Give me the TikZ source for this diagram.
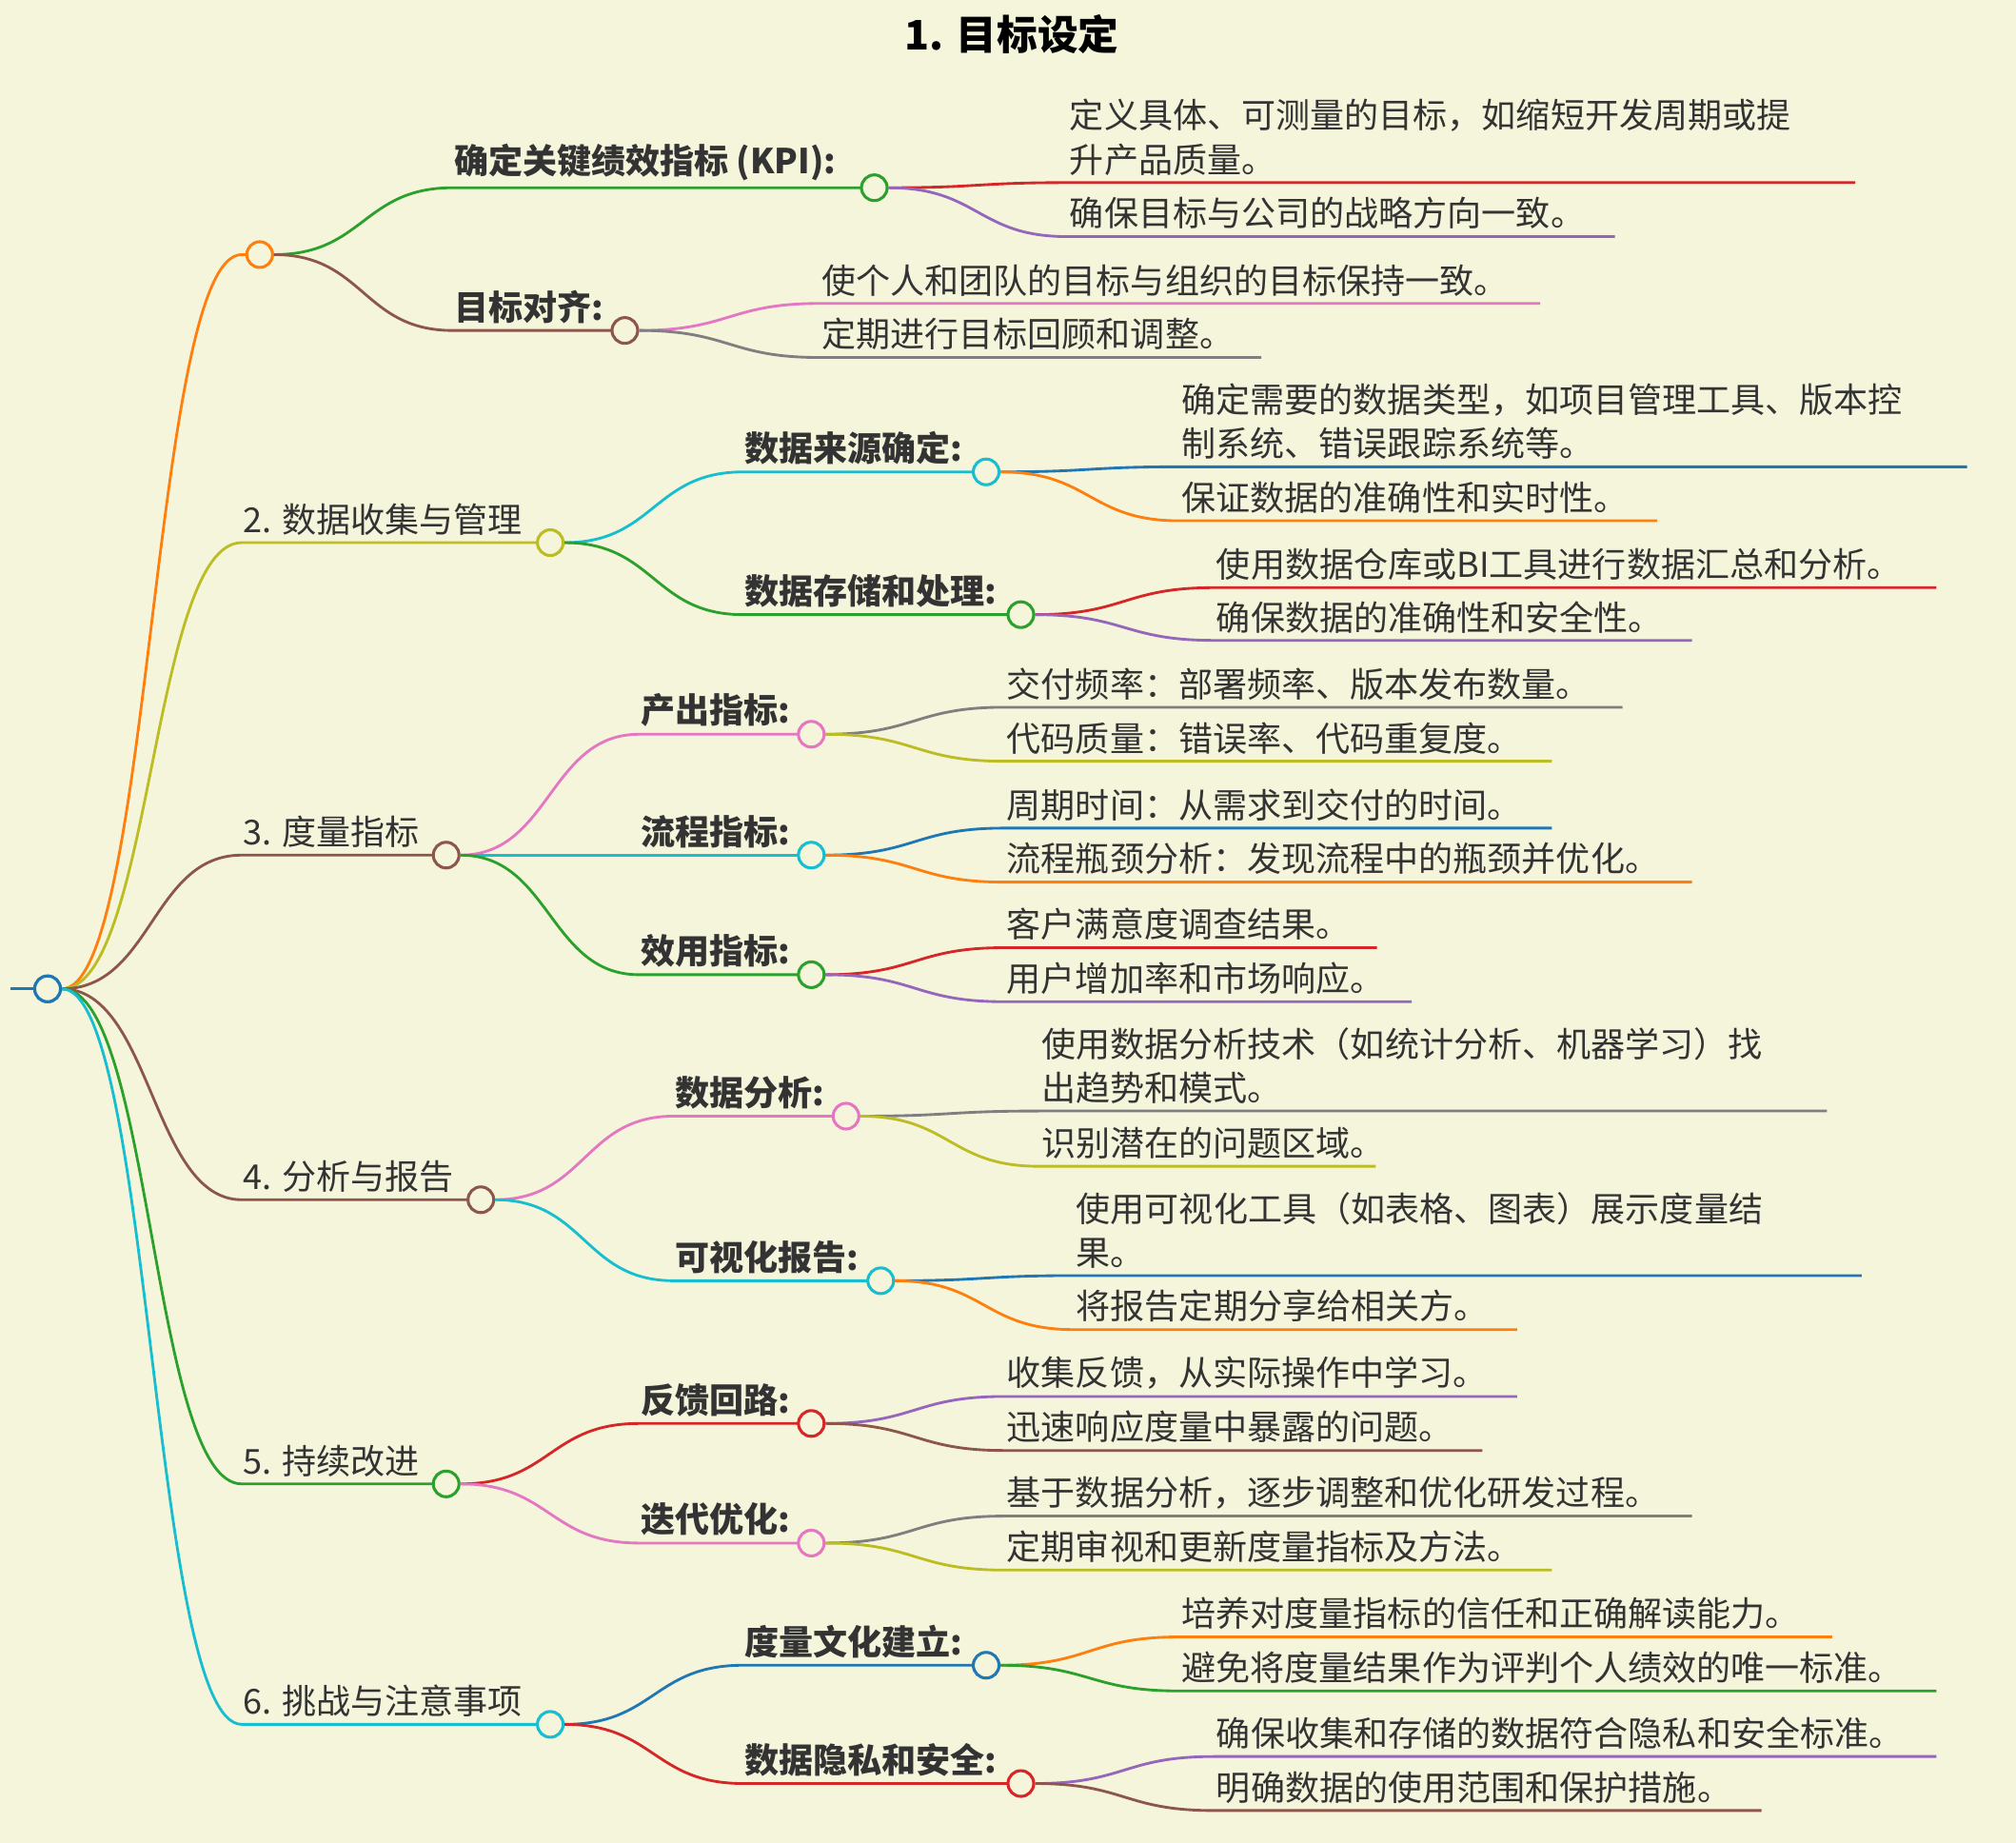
\documentclass[tikz,border=0pt]{standalone}
\usepackage{fontspec}
\setmainfont{Noto Sans CJK SC}
\usetikzlibrary{positioning}

\definecolor{bg}{HTML}{F5F5DC}
\definecolor{cblue}{HTML}{1F77B4}
\definecolor{corange}{HTML}{FF7F0E}
\definecolor{cgreen}{HTML}{2CA02C}
\definecolor{cred}{HTML}{D62728}
\definecolor{cpurple}{HTML}{9467BD}
\definecolor{cbrown}{HTML}{8C564B}
\definecolor{cpink}{HTML}{E377C2}
\definecolor{cgray}{HTML}{7F7F7F}
\definecolor{colive}{HTML}{BCBD22}
\definecolor{ccyan}{HTML}{17BECF}
\definecolor{ctext}{HTML}{333333}

\tikzset{
  branch/.style={line width=1.2pt},
  knob/.style={circle,draw=#1,fill=bg,line width=1.3pt,minimum size=0.4cm,inner sep=0},
  leaftext/.style={anchor=south west,inner sep=0,text=ctext,align=left,
                   font=\fontsize{15.2}{19.5}\selectfont},
  midtext/.style={leaftext,font=\fontsize{15.2}{19.5}\selectfont\bfseries}
}

% leaf: parent, name, colour, x start, x end, y, text
\newcommand{\leaf}[7]{
  \coordinate (#2-s) at (#4,#6);
  \draw[branch,#3] (#1.east) .. controls +(70,0) and +(-70,0) .. (#2-s) -- (#5,#6);
  \node[leaftext] (#2) at ([xshift=1pt,yshift=3pt]#2-s) {#7};
}
% inner branch: parent, name, colour, x start, x knob, y, text, text style
\newcommand{\twig}[8]{
  \coordinate (#2-s) at (#4,#6);
  \draw[branch,#3] (#1.east) .. controls +(70,0) and +(-70,0) .. (#2-s) -- (#5,#6);
  \node[#8] (#2-t) at ([xshift=0.5pt,yshift=3pt]#2-s) {#7};
  \node[knob=#3] (#2) at (#5,#6) {};
}

\begin{document}
\begin{tikzpicture}[x=0.02cm,y=-0.02cm]

\fill[bg] (0,0) rectangle (1568,1433);
\useasboundingbox (0,0) rectangle (1568,1433);

\node[font=\fontsize{18}{22}\selectfont\bfseries,text=black] (title) at (787,27) {1. 目标设定};

%%%% root
\coordinate (stub) at (8,769);
\draw[branch,cblue] (stub) -- (27,769);
\node[knob=cblue] (root) at (37,769) {};

%%%% level 1
\twig{root}{b1}{corange}{188}{202}{198}{}{leaftext}
\twig{root}{b2}{colive}{188}{428}{422}{2. 数据收集与管理}{leaftext}
\twig{root}{b3}{cbrown}{188}{347}{665}{3. 度量指标}{leaftext}
\twig{root}{b4}{cbrown}{188}{374}{933}{4. 分析与报告}{leaftext}
\twig{root}{b5}{cgreen}{188}{347}{1154}{5. 持续改进}{leaftext}
\twig{root}{b6}{ccyan}{188}{428}{1341}{6. 挑战与注意事项}{leaftext}
\node[knob=cblue] at (root) {};

%%%% level 2
\twig{b1}{kpi}{cgreen}{352}{680}{146}{确定关键绩效指标 (KPI):}{midtext}
\twig{b1}{align}{cbrown}{352}{486}{257}{目标对齐:}{midtext}
\twig{b2}{src}{ccyan}{578}{767}{367}{数据来源确定:}{midtext}
\twig{b2}{store}{cgreen}{578}{794}{478}{数据存储和处理:}{midtext}
\twig{b3}{out}{cpink}{497}{631}{571}{产出指标:}{midtext}
\twig{b3}{flow}{ccyan}{497}{631}{665}{流程指标:}{midtext}
\twig{b3}{eff}{cgreen}{497}{631}{758}{效用指标:}{midtext}
\twig{b4}{ana}{cpink}{524}{658}{868}{数据分析:}{midtext}
\twig{b4}{vis}{ccyan}{524}{685}{996}{可视化报告:}{midtext}
\twig{b5}{fb}{cred}{497}{631}{1107}{反馈回路:}{midtext}
\twig{b5}{iter}{cpink}{497}{631}{1200}{迭代优化:}{midtext}
\twig{b6}{cult}{cblue}{578}{767}{1295}{度量文化建立:}{midtext}
\twig{b6}{priv}{cred}{578}{794}{1387}{数据隐私和安全:}{midtext}

%%%% leaves
\leaf{kpi}{kpi1}{cred}{830}{1443}{142}{定义具体、可测量的目标，如缩短开发周期或提\\升产品质量。}
\leaf{kpi}{kpi2}{cpurple}{830}{1256}{184}{确保目标与公司的战略方向一致。}
\leaf{align}{al1}{cpink}{637}{1198}{236}{使个人和团队的目标与组织的目标保持一致。}
\leaf{align}{al2}{cgray}{637}{981}{278}{定期进行目标回顾和调整。}
\leaf{src}{src1}{cblue}{917}{1530}{363}{确定需要的数据类型，如项目管理工具、版本控\\制系统、错误跟踪系统等。}
\leaf{src}{src2}{corange}{917}{1289}{405}{保证数据的准确性和实时性。}
\leaf{store}{st1}{cred}{944}{1506}{457}{使用数据仓库或BI工具进行数据汇总和分析。}
\leaf{store}{st2}{cpurple}{944}{1316}{498}{确保数据的准确性和安全性。}
\leaf{out}{out1}{cgray}{781}{1262}{550}{交付频率：部署频率、版本发布数量。}
\leaf{out}{out2}{colive}{781}{1207}{592}{代码质量：错误率、代码重复度。}
\leaf{flow}{fl1}{cblue}{781}{1207}{644}{周期时间：从需求到交付的时间。}
\leaf{flow}{fl2}{corange}{781}{1316}{686}{流程瓶颈分析：发现流程中的瓶颈并优化。}
\leaf{eff}{ef1}{cred}{781}{1071}{737}{客户满意度调查结果。}
\leaf{eff}{ef2}{cpurple}{781}{1098}{779}{用户增加率和市场响应。}
\leaf{ana}{an1}{cgray}{808}{1421}{864}{使用数据分析技术（如统计分析、机器学习）找\\出趋势和模式。}
\leaf{ana}{an2}{colive}{808}{1070}{907}{识别潜在的问题区域。}
\leaf{vis}{vi1}{cblue}{835}{1448}{992}{使用可视化工具（如表格、图表）展示度量结\\果。}
\leaf{vis}{vi2}{corange}{835}{1180}{1034}{将报告定期分享给相关方。}
\leaf{fb}{fb1}{cpurple}{781}{1180}{1086}{收集反馈，从实际操作中学习。}
\leaf{fb}{fb2}{cbrown}{781}{1153}{1128}{迅速响应度量中暴露的问题。}
\leaf{iter}{it1}{cgray}{781}{1316}{1179}{基于数据分析，逐步调整和优化研发过程。}
\leaf{iter}{it2}{colive}{781}{1207}{1221}{定期审视和更新度量指标及方法。}
\leaf{cult}{cu1}{corange}{917}{1425}{1273}{培养对度量指标的信任和正确解读能力。}
\leaf{cult}{cu2}{cgreen}{917}{1506}{1315}{避免将度量结果作为评判个人绩效的唯一标准。}
\leaf{priv}{pr1}{cpurple}{944}{1506}{1366}{确保收集和存储的数据符合隐私和安全标准。}
\leaf{priv}{pr2}{cbrown}{944}{1370}{1408}{明确数据的使用范围和保护措施。}

\end{tikzpicture}
\end{document}
